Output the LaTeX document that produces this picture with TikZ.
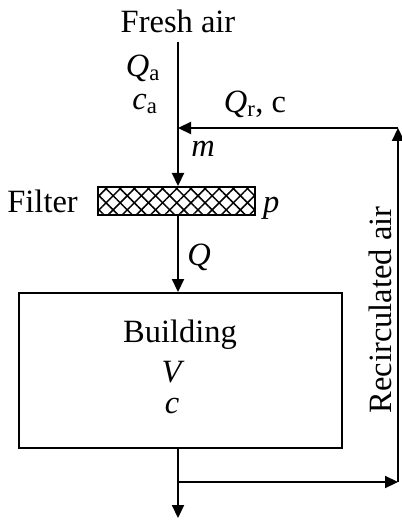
\documentclass[tikz,border=0pt]{standalone}
\usepackage{fontspec}
\setmainfont{Liberation Serif}
\usetikzlibrary{arrows.meta,patterns.meta}
\begin{document}
\begin{tikzpicture}[x=1pt,y=-1pt,
  lbl/.style={font=\fontsize{32.5}{38}\selectfont, inner sep=0pt, anchor=base},
  flow/.style={line width=2.2pt, -{Triangle[length=13pt,width=12pt]}},
  hatch/.style={preaction={pattern={Lines[angle=45,distance=10pt,line width=1.5pt]}},
                preaction={pattern={Lines[angle=-45,distance=10pt,line width=1.5pt]}}},
  box/.style={draw, line width=2.2pt, inner sep=0pt, anchor=north west}]
\path[use as bounding box] (0,0) rectangle (401,521);
% nodes
\node[lbl] (fresh) at (178,33) {Fresh air};
\coordinate (top) at (178,42);
\coordinate (J) at (178,128);
\node[box, hatch, minimum width=157pt, minimum height=28pt] (filter) at (97,186) {};
\node[box, minimum width=323pt, minimum height=155pt] (building) at (18,292) {};
\coordinate (B) at (178,482);
\coordinate (R) at (398,482);
\coordinate (RT) at (398,128);
\coordinate (out) at (178,518);
% labels
\node[lbl] (qa) at (143,77) {\textit{Q}\textsubscript{a}};
\node[lbl] (ca) at (145,110) {\textit{c}\textsubscript{a}};
\node[lbl] (qr) at (255,113) {\textit{Q}\textsubscript{r}, c};
\node[lbl] (m) at (203,157) {\textit{m}};
\node[lbl, anchor=base east] (fl) at (78,212) {Filter};
\node[lbl, anchor=base west] (p) at (263,212) {\textit{p}};
\node[lbl] (q) at (199,265) {\textit{Q}};
\node[lbl] (bl) at (180,342) {Building};
\node[lbl] (v) at (173,382) {\textit{V}};
\node[lbl] (c) at (172,413) {\textit{c}};
\node[lbl, anchor=center, rotate=90] (rec) at (380,310) {Recirculated air};
% connectors
\draw[flow] (top) -- (top |- filter.north);
\draw[flow] (top |- filter.south) -- (top |- building.north);
\draw[flow] (top |- building.south) -- (out);
\draw[flow] (B) -- (R);
\draw[flow] (R) -- (RT);
\draw[flow] (RT) -- (J);
\end{tikzpicture}
\end{document}
